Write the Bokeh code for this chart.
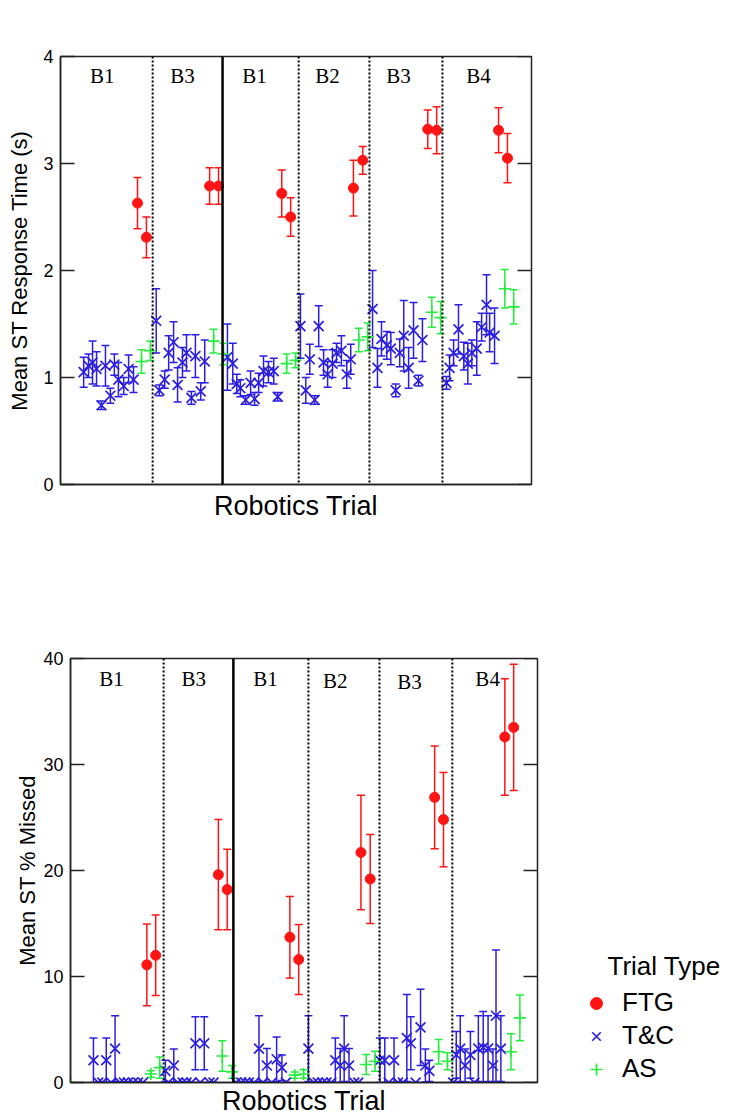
from bokeh.plotting import figure
from bokeh.models import (Range1d, Label, Span, Whisker, TeeHead, ColumnDataSource,
                          FixedTicker, Legend, LegendItem)
from bokeh.layouts import column, row
from bokeh.embed import file_html
from bokeh.resources import INLINE

# ---------------- data ----------------
# trial positions (x, trial units)
tc_x = [5.2, 6.3, 7.2, 8.1, 9.2, 10.1, 11.2, 12.1, 13.0, 14.2, 15.3, 16.4,
        21.5, 22.2, 23.4, 24.3, 25.4, 26.3, 27.4, 28.3, 29.4, 30.3, 31.5, 32.4,
        37.5, 38.7, 39.6, 40.4, 41.6, 42.7, 43.6, 44.5, 45.6, 46.7, 47.9, 48.8,
        53.9, 55.1, 56.0, 57.1, 58.0, 59.1, 60.0, 61.1, 62.0, 63.1, 64.3, 65.2,
        70.1, 71.2, 72.1, 73.3, 74.2, 75.3, 76.2, 77.1, 78.2, 79.3, 80.4, 81.3,
        86.7, 87.4, 88.3, 89.4, 90.6, 91.5, 92.4, 93.5, 94.6, 95.7, 96.4, 97.5]
ftg_x = [17.3, 19.3, 33.5, 35.5, 49.7, 51.7, 65.8, 67.9, 82.5, 84.5, 98.4, 100.4]
as_x = [0.0, 18.2, 20.2, 34.4, 36.6, 50.8, 52.8, 67.0, 69.0, 83.4, 85.4, 99.8, 101.8]

# Mean ST response time (s)
rt_tc = [1.05, 1.11, 1.14, 1.08, 0.74, 1.11, 0.83, 1.12, 0.98, 0.92, 1.08, 0.98,
         1.53, 0.88, 0.98, 1.23, 1.33, 0.93, 1.14, 1.23, 0.81, 1.20, 0.87, 1.15,
         1.19, 1.13, 0.94, 0.90, 0.79, 0.95, 0.80, 0.95, 1.06, 1.05, 1.06, 0.82,
         1.48, 0.88, 1.17, 0.79, 1.48, 1.14, 1.03, 1.13, 1.23, 1.25, 1.03, 1.17,
         1.64, 1.09, 1.36, 1.30, 1.27, 0.88, 1.23, 1.39, 1.09, 1.44, 0.97, 1.35,
         0.95, 1.09, 1.23, 1.45, 1.20, 1.13, 1.23, 1.27, 1.47, 1.68, 1.42, 1.39]
rt_tc_err = [0.14, 0.11, 0.20, 0.16, 0.04, 0.19, 0.07, 0.10, 0.16, 0.08, 0.13, 0.12,
             0.30, 0.05, 0.08, 0.16, 0.19, 0.16, 0.14, 0.17, 0.06, 0.20, 0.08, 0.20,
             0.31, 0.19, 0.09, 0.08, 0.04, 0.11, 0.06, 0.09, 0.14, 0.10, 0.12, 0.04,
             0.30, 0.12, 0.14, 0.04, 0.19, 0.12, 0.12, 0.13, 0.09, 0.14, 0.13, 0.14,
             0.36, 0.18, 0.16, 0.13, 0.15, 0.06, 0.13, 0.33, 0.19, 0.26, 0.05, 0.20,
             0.06, 0.12, 0.12, 0.23, 0.13, 0.19, 0.12, 0.25, 0.13, 0.28, 0.18, 0.26]
rt_ftg = [2.63, 2.31, 2.79, 2.79, 2.72, 2.50, 2.77, 3.03, 3.32, 3.31, 3.31, 3.05]
rt_ftg_err = [0.24, 0.19, 0.17, 0.17, 0.22, 0.18, 0.26, 0.13, 0.18, 0.22, 0.21, 0.23]
rt_as = [0.0, 1.15, 1.25, 1.34, 1.22, 1.13, 1.16, 1.35, 1.38, 1.61, 1.56, 1.83, 1.66]
rt_as_err = [0.0, 0.11, 0.09, 0.11, 0.10, 0.09, 0.07, 0.11, 0.13, 0.14, 0.15, 0.18, 0.16]

# Mean ST % missed
miss_tc = [2.1, 0, 0, 2.1, 0, 3.2, 0, 0, 0, 0, 0, 0,
           1.1, 0, 1.6, 0, 0, 0, 0, 3.7, 0, 3.7, 0, 0,
           0, 0, 0, 0, 0, 3.2, 0, 1.6, 0, 2.2, 1.4, 0,
           3.2, 0, 0, 0, 0, 0, 2.1, 1.6, 3.2, 1.6, 0, 0,
           2.1, 2.1, 0, 2.1, 0, 0, 4.2, 3.7, 0, 5.2, 1.6, 1.1,
           0, 2.6, 3.2, 1.6, 2.6, 0, 3.2, 3.3, 3.2, 1.6, 6.3, 3.2]
miss_tc_err = [2.1, 0, 0, 2.1, 0, 3.1, 0, 0, 0, 0, 0, 0,
               1.0, 0, 1.55, 0, 0, 0, 0, 2.5, 0, 2.5, 0, 0,
               0, 0, 0, 0, 0, 3.1, 0, 1.6, 0, 2.1, 1.2, 0,
               3.1, 0, 0, 0, 0, 0, 2.1, 1.6, 3.1, 1.6, 0, 0,
               2.1, 2.1, 0, 2.1, 0, 0, 4.1, 2.5, 0, 3.6, 1.55, 1.0,
               0, 2.2, 3.1, 1.55, 2.2, 0, 3.1, 3.4, 3.1, 1.55, 6.2, 3.1]
miss_ftg = [11.1, 12.0, 19.6, 18.2, 13.7, 11.6, 21.7, 19.2, 26.9, 24.8, 32.6, 33.5]
miss_ftg_err = [3.85, 3.8, 5.2, 3.8, 3.85, 3.3, 5.4, 4.2, 4.85, 4.45, 5.5, 5.95]
miss_as = [0.0, 0.8, 1.4, 2.5, 1.0, 0.7, 0.8, 1.7, 2.0, 2.9, 2.0, 2.9, 6.1]
miss_as_err = [0.0, 0.3, 1.0, 1.45, 0.6, 0.3, 0.4, 0.95, 0.95, 1.15, 0.8, 1.7, 2.15]

block_labels = ["B1", "B3", "B1", "B2", "B3", "B4"]
session_labels = ["6-hr BL", "Slam 1"]
rt_ticks = [0, 1, 2, 3, 4]
miss_ticks = [0, 10, 20, 30, 40]
legend_labels = ["FTG", "T&C", "AS"]

# ---------------- layout / style ----------------
X_MAX = 105.8
RED = "#ff1414"
BLUE = "#2c1ee0"
GREEN = "#24ee3c"
SANS = "Liberation Sans"
SERIF = "Liberation Serif"
TICK_PX = 14


def add_err(p, xs, ys, es, color):
    src = ColumnDataSource(dict(
        x=xs,
        upper=[y + e for y, e in zip(ys, es)],
        lower=[max(0.0, y - e) for y, e in zip(ys, es)]))
    w = Whisker(source=src, base="x", upper="upper", lower="lower",
                dimension="height", line_color=color, line_width=1.5,
                level="underlay",
                upper_head=TeeHead(size=8, line_color=color, line_width=1.5),
                lower_head=TeeHead(size=8, line_color=color, line_width=1.5))
    p.add_layout(w)


def make_panel(y_max, ticks, fw, fh, bl, br, bt, bb, ylabel, ylab_standoff,
               tc, tc_e, ftg, ftg_e, asv, as_e,
               dotted, solid, blx, bly, stx, sty, xlab_standoff):
    p = figure(frame_width=fw, frame_height=fh,
               x_range=Range1d(0, X_MAX), y_range=Range1d(0, y_max),
               output_backend="svg", toolbar_location=None,
               min_border_left=bl, min_border_right=br,
               min_border_top=bt, min_border_bottom=bb,
               background_fill_color="white", border_fill_color="white")
    p.xgrid.visible = False
    p.ygrid.visible = False
    p.outline_line_color = "#222222"
    p.outline_line_width = 1.5

    yax = p.yaxis[0]
    yax.ticker = FixedTicker(ticks=ticks)
    yax.major_tick_in = TICK_PX
    yax.major_tick_out = 0
    yax.minor_tick_in = 0
    yax.minor_tick_out = 0
    yax.major_tick_line_color = "#222222"
    yax.major_tick_line_width = 1.5
    yax.axis_line_color = "#222222"
    yax.axis_line_width = 1.5
    yax.major_label_standoff = 7
    yax.major_label_text_font = SANS
    yax.major_label_text_font_size = "18px"
    yax.major_label_text_color = "black"
    yax.axis_label = ylabel
    yax.axis_label_text_font = SANS
    yax.axis_label_text_font_size = "22px"
    yax.axis_label_text_font_style = "normal"
    yax.axis_label_text_color = "black"
    yax.axis_label_standoff = ylab_standoff

    xax = p.xaxis[0]
    xax.ticker = FixedTicker(ticks=[])
    xax.major_tick_out = 0
    xax.major_tick_in = 0
    xax.minor_tick_in = 0
    xax.minor_tick_out = 0
    xax.major_label_standoff = 0
    xax.axis_line_color = "#222222"
    xax.axis_line_width = 1.5
    xax.axis_label = "Robotics Trial"
    xax.axis_label_text_font = SANS
    xax.axis_label_text_font_size = "27px"
    xax.axis_label_text_font_style = "normal"
    xax.axis_label_text_color = "black"
    xax.axis_label_standoff = xlab_standoff

    # inward ticks on the right frame edge (same tick values as left axis)
    tick_len = TICK_PX * X_MAX / fw
    p.segment(x0=[X_MAX - tick_len] * len(ticks), x1=[X_MAX] * len(ticks),
              y0=ticks, y1=ticks, line_color="#222222", line_width=1.5)

    for d in dotted:
        p.add_layout(Span(location=d, dimension="height", line_color="black",
                          line_width=2, line_dash="2 2"))
    p.add_layout(Span(location=solid, dimension="height", line_color="black",
                      line_width=2.5))

    add_err(p, tc_x, tc, tc_e, BLUE)
    add_err(p, as_x, asv, as_e, GREEN)
    add_err(p, ftg_x, ftg, ftg_e, RED)

    p.scatter(tc_x, tc, marker="x", size=14, line_color=BLUE, line_width=1.7)
    p.scatter(as_x, asv, marker="cross", size=12, line_color=GREEN, line_width=1.6)
    p.scatter(ftg_x, ftg, marker="circle", size=10, fill_color=RED, line_color=RED)

    for t, x, y in zip(block_labels, blx, bly):
        p.add_layout(Label(x=x, y=y, text=t, text_font=SERIF,
                           text_font_size="21px", text_align="center",
                           text_baseline="middle", text_color="black"))
    for t, x, y in zip(session_labels, stx, sty):
        p.add_layout(Label(x=x, y=y, text=t, text_font=SERIF,
                           text_font_size="23px", text_align="center",
                           text_baseline="middle", text_color="black"))
    return p


top = make_panel(4, rt_ticks, 471, 428, 60, 198, 56, 76,
                 "Mean ST Response Time (s)", 8,
                 rt_tc, rt_tc_err, rt_ftg, rt_ftg_err, rt_as, rt_as_err,
                 [20.7, 53.5, 69.4, 85.8], 36.4,
                 [9.4, 27.4, 43.6, 60.0, 75.9, 93.9], [3.82] * 6,
                 [16.7, 68.9], [4.376, 4.355], 6)

bottom = make_panel(40, miss_ticks, 467, 424, 70, 23, 98, 36,
                    "Mean ST % Missed", 0,
                    miss_tc, miss_tc_err, miss_ftg, miss_ftg_err, miss_as, miss_as_err,
                    [21.1, 53.9, 70.0, 86.5], 36.9,
                    [9.3, 27.9, 44.2, 60.0, 76.8, 94.5],
                    [38.07, 38.07, 38.1, 37.9, 37.8, 38.07],
                    [16.8, 69.3], [43.66, 43.1], 3)

# legend panel (y data = page pixels)
lf = figure(width=169, height=558, x_range=Range1d(560, 729), y_range=Range1d(1118, 560),
            x_axis_location=None, y_axis_location=None, toolbar_location=None,
            output_backend="svg", min_border=0, outline_line_color=None,
            background_fill_color="white", border_fill_color="white")
lf.xgrid.visible = False
lf.ygrid.visible = False
# legend swatches: one point each, placed outside the visible range
r1 = lf.scatter(x=[-100], y=[-100], marker="circle", size=13, fill_color=RED, line_color=RED)
r2 = lf.scatter(x=[-100], y=[-100], marker="x", size=16, line_color=BLUE, line_width=1.7)
r3 = lf.scatter(x=[-100], y=[-100], marker="cross", size=13, line_color=GREEN, line_width=1.7)
legend = Legend(items=[LegendItem(label=legend_labels[0], renderers=[r1]),
                       LegendItem(label=legend_labels[1], renderers=[r2]),
                       LegendItem(label=legend_labels[2], renderers=[r3])],
                location=(21, -2), padding=0, margin=0, spacing=2,
                glyph_width=30, glyph_height=30, label_standoff=11, label_height=20,
                label_text_font=SANS, label_text_font_size="26px",
                label_text_color="black",
                border_line_color=None, background_fill_alpha=0)
lf.add_layout(legend)
lf.add_layout(Label(x=607, y=965, text="Trial Type", text_font=SANS,
                    text_font_size="26px", text_align="left",
                    text_baseline="alphabetic", text_color="black"))

layout = column(top, row(bottom, lf))
open("out.html", "w").write(file_html(layout, INLINE))
